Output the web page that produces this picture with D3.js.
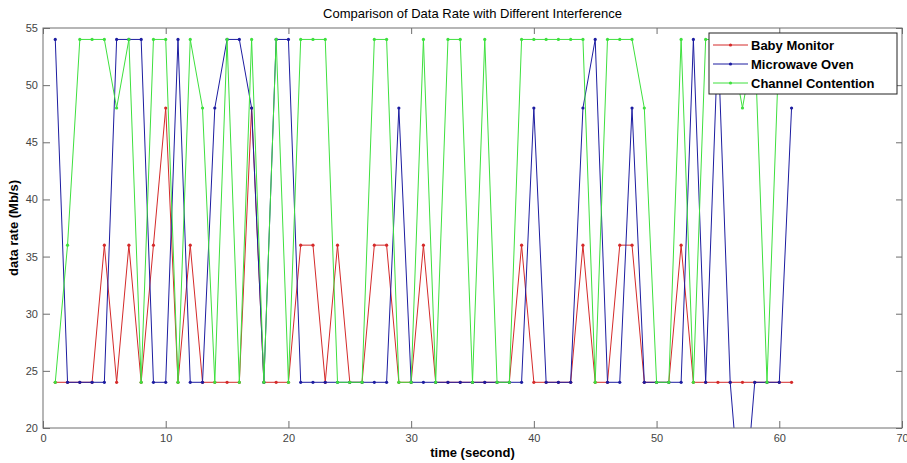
<!DOCTYPE html>
<html>
<head>
  <meta charset="utf-8">
  <title>Data Rate Comparison</title>
  <style>
    body { margin: 0; background: #fff; }
    text { font-family: Arial, "Liberation Sans", sans-serif; }
  </style>
</head>
<body>
  <script src="https://d3js.org/d3.v7.min.js"></script>
  <script>
    // time in seconds, 1..61
    var seconds = d3.range(1, 62);

    var babyMonitor = [24, 24, 24, 24, 36, 24, 36, 24, 36, 48,
                       24, 36, 24, 24, 24, 24, 48, 24, 24, 24,
                       36, 36, 24, 36, 24, 24, 36, 36, 24, 24,
                       36, 24, 24, 24, 24, 24, 24, 24, 36, 24,
                       24, 24, 24, 36, 24, 24, 36, 36, 24, 24,
                       24, 36, 24, 24, 24, 24, 24, 24, 24, 24, 24];

    var microwaveOven = [54, 24, 24, 24, 24, 54, 54, 54, 24, 24,
                         54, 24, 24, 48, 54, 54, 48, 24, 54, 54,
                         24, 24, 24, 24, 24, 24, 24, 24, 48, 24,
                         24, 24, 24, 24, 24, 24, 24, 24, 24, 48,
                         24, 24, 24, 48, 54, 24, 24, 48, 24, 24,
                         24, 24, 54, 24, 54, 24, 11, 24, 24, 24, 48];

    var channelContention = [24, 36, 54, 54, 54, 48, 54, 24, 54, 54,
                             24, 54, 48, 24, 54, 24, 54, 24, 54, 24,
                             54, 54, 54, 24, 24, 24, 54, 54, 24, 24,
                             54, 24, 54, 54, 24, 54, 24, 24, 54, 54,
                             54, 54, 54, 54, 24, 54, 54, 54, 48, 24,
                             24, 54, 24, 54, 54, 54, 48, 54, 24, 54, 54];

    var xTicks = [0, 10, 20, 30, 40, 50, 60, 70];
    var yTicks = [20, 25, 30, 35, 40, 45, 50, 55];

    var series = [
      { name: 'Baby Monitor', values: babyMonitor, color: '#d42a2a' },
      { name: 'Microwave Oven', values: microwaveOven, color: '#1c1ca0' },
      { name: 'Channel Contention', values: channelContention, color: '#3ee03e' }
    ];

    var W = 907, H = 463,
      margin = { top: 28, right: 5, bottom: 35, left: 43 },
      width = W - margin.left - margin.right,
      height = H - margin.top - margin.bottom;

    var x = d3.scaleLinear().domain([0, 70]).range([0, width]);
    var y = d3.scaleLinear().domain([20, 55]).range([height, 0]);

    var svg = d3.select('body').append('svg')
      .attr('width', W)
      .attr('height', H);

    var g = svg.append('g')
      .attr('transform', `translate(${margin.left},${margin.top})`);

    svg.append('defs').append('clipPath').attr('id', 'plot')
      .append('rect').attr('width', width).attr('height', height);

    // lines + markers
    var line = d3.line()
      .x((d, i) => x(seconds[i]))
      .y(d => y(d));

    var plot = g.append('g').attr('clip-path', 'url(#plot)');
    series.forEach(function (s) {
      plot.append('path')
        .attr('d', line(s.values))
        .attr('fill', 'none')
        .attr('stroke', s.color)
        .attr('stroke-width', 1);
      plot.selectAll(null).data(s.values).enter()
        .append('circle')
        .attr('cx', (d, i) => x(seconds[i]))
        .attr('cy', d => y(d))
        .attr('r', 1.6)
        .attr('fill', s.color);
    });

    // axes (MATLAB style: ticks inside, box on)
    var axisColor = '#6e6e6e';
    function styleAxis(sel, hideText) {
      sel.select('.domain').remove();
      sel.selectAll('.tick line').attr('stroke', axisColor);
      sel.selectAll('.tick text')
        .attr('fill', '#444')
        .style('font-size', '11px');
      if (hideText) sel.selectAll('.tick text').remove();
    }

    g.append('g').attr('transform', `translate(0,${height})`)
      .call(d3.axisBottom(x).tickValues(xTicks).tickSize(-7).tickPadding(6))
      .call(styleAxis, false);
    g.append('g')
      .call(d3.axisTop(x).tickValues(xTicks).tickSize(-6))
      .call(styleAxis, true);
    g.append('g')
      .call(d3.axisLeft(y).tickValues(yTicks).tickSize(-7).tickPadding(5))
      .call(styleAxis, false);
    g.append('g').attr('transform', `translate(${width},0)`)
      .call(d3.axisRight(y).tickValues(yTicks).tickSize(-6))
      .call(styleAxis, true);

    g.append('rect')
      .attr('width', width).attr('height', height)
      .attr('fill', 'none').attr('stroke', axisColor);

    // title and labels
    svg.append('text')
      .attr('x', margin.left + width / 2).attr('y', 18)
      .attr('text-anchor', 'middle')
      .style('font-size', '13px')
      .text('Comparison of Data Rate with Different Interference');

    svg.append('text')
      .attr('x', margin.left + width / 2).attr('y', 457)
      .attr('text-anchor', 'middle')
      .style('font-size', '13px').style('font-weight', 'bold')
      .text('time (second)');

    svg.append('text')
      .attr('transform', `translate(18,${margin.top + height / 2}) rotate(-90)`)
      .attr('text-anchor', 'middle')
      .style('font-size', '13px').style('font-weight', 'bold')
      .text('data rate (Mb/s)');

    // legend
    var lg = svg.append('g').attr('transform', 'translate(709,33)');
    lg.append('rect')
      .attr('width', 188).attr('height', 61)
      .attr('fill', '#fff').attr('stroke', '#222');
    series.forEach(function (s, i) {
      var yy = 12 + i * 19;
      lg.append('line')
        .attr('x1', 4).attr('x2', 39).attr('y1', yy).attr('y2', yy)
        .attr('stroke', s.color);
      lg.append('circle').attr('cx', 21.5).attr('cy', yy).attr('r', 1.6)
        .attr('fill', s.color);
      lg.append('text')
        .attr('x', 42).attr('y', yy + 5)
        .style('font-size', '13px').style('font-weight', 'bold')
        .text(s.name);
    });
  </script>
</body>
</html>
